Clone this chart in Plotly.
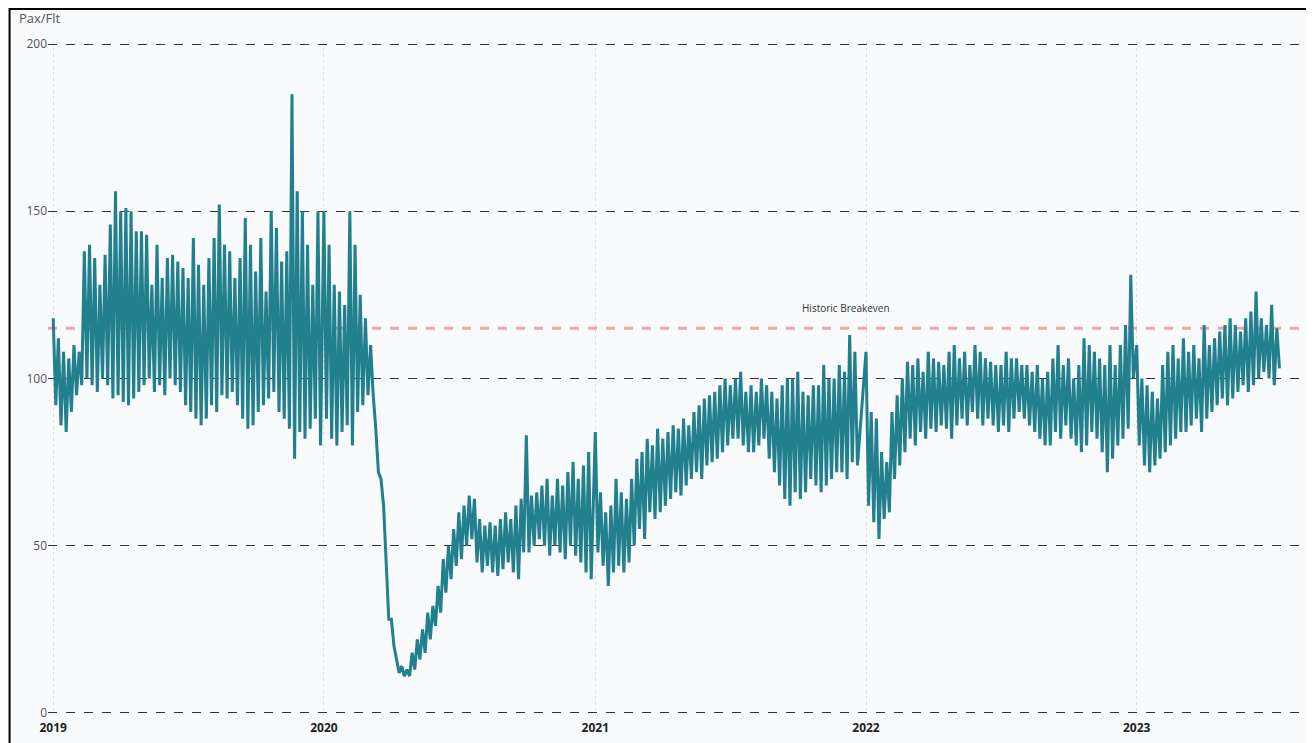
import plotly.graph_objects as go
import pandas as pd

# weekly high / low Pax per flight, per year
h2019 = [118,112,108,106,110,108,138,140,136,128,137,146,156,150,151,150,144,144,143,128,140,130,136,137,135,133,130,142,134,128,136,142,152,140,138,130,136,148,140,132,142,126,150,145,135,138,185,156,150,140,128,150]
l2019 = [92,86,84,90,95,98,100,98,96,100,98,94,95,93,92,94,96,98,100,96,98,95,100,98,96,92,90,88,86,88,92,90,95,94,96,92,88,85,86,90,92,94,96,90,88,85,76,84,82,85,88,80]
h2020 = [150,140,128,126,122,150,140,125,118, 110,85,70,45, 28,16,14,13, 18,22,25,30,32, 38,46,50,55, 60,62,65,64, 58,56,57,56,58, 60,58,62,64, 83,65,66,68,70, 65,70,68,72, 75,70,74,78]
l2020 = [88,82,80,84,86,80,90,92,95, 95,72,62,28, 20,12,11,11, 13,16,18,22,26, 30,36,40,44, 46,50,52,45, 42,44,42,41,43, 45,42,40,48, 48,50,52,50,47, 50,48,46,50, 47,45,42,40]
h2021 = [84,66,60,62, 70,66,64,70, 76,78,82,80, 85,82,84,86,85, 88,86,90,92, 94,95,96,98, 100,98,100,102,96, 98,96,100,98, 96,94,98,100, 100,102,96,95,98, 98,104,100,100, 104,102,113,108]
l2021 = [48,44,38,42, 44,42,45,50, 55,52,60,58, 60,62,64,66,65, 68,70,72,70, 74,75,76,78, 80,82,82,80,78, 78,80,82,76, 72,68,64,62, 66,64,66,70,68, 66,68,70,72, 72,70,75,74]
h2022 = [108,90,88,78,75, 90,95,100,105, 104,106,102,108, 106,105,104,108,110, 106,108,104,110, 108,106,105,104, 104,108,106,106,104, 104,102,104,100, 102,106,110,104, 106,100,104,112,110, 108,106,104,110, 104,110,116,131]
l2022 = [62,57,52,58,60, 70,74,78,82, 80,84,82,85, 84,86,85,82,86, 88,86,90,88, 86,88,86,84, 86,84,88,90,88, 86,84,82,80, 80,84,82,86, 82,80,78,80,84, 82,78,72,76, 80,82,85,100]
h2023 = [110,100,98,96,94, 104,108,110,106, 112,108,110,106, 116,110,112,114,116, 118,116,114,118, 120,126,118,116, 122,115]
l2023 = [80,74,72,74,76, 78,80,82,84, 84,86,88,84, 88,90,92,94,92, 94,96,98,96, 98,100,102,100, 98,103]

years = {2019: (h2019, l2019), 2020: (h2020, l2020), 2021: (h2021, l2021),
         2022: (h2022, l2022), 2023: (h2023, l2023)}
breakeven = 115

xs, ys = [], []
for yr, (hs, ls) in years.items():
    start = pd.Timestamp(f"{yr}-01-01")
    for i, (hv, lv) in enumerate(zip(hs, ls)):
        xs.append(start + pd.Timedelta(days=7 * i))
        ys.append(hv)
        xs.append(start + pd.Timedelta(days=7 * i + 3.5))
        ys.append(lv)

fig = go.Figure()
fig.add_hline(y=breakeven, line=dict(color="#f0a6a6", width=3, dash="dash"), layer="below")
fig.add_trace(go.Scatter(x=xs, y=ys, mode="lines",
                         line=dict(color="#217f8e", width=3), showlegend=False))
fig.add_annotation(x="2021-12-05", y=breakeven + 6, text="Historic Breakeven",
                   showarrow=False, font=dict(size=10, color="#333"))
fig.add_annotation(xref="paper", yref="paper", x=-0.025, y=1.052, text="Pax/Flt",
                   showarrow=False, xanchor="left", font=dict(size=13, color="#555"))
fig.add_shape(type="rect", xref="paper", yref="paper", x0=-0.0305, x1=1.0098, y0=-0.052, y1=1.049,
              line=dict(color="black", width=2))

fig.update_layout(
    width=1314, height=743,
    margin=dict(l=40, r=14, t=34, b=36),
    paper_bgcolor="#f8fafc", plot_bgcolor="#f8fafc",
    font=dict(family="Open Sans, sans-serif", color="#555"),
)
fig.update_xaxes(range=["2018-12-25", "2023-08-20"],
                 tickvals=["2019-01-01", "2020-01-01", "2021-01-01", "2022-01-01", "2023-01-01"],
                 ticktext=["<b>2019</b>", "<b>2020</b>", "<b>2021</b>", "<b>2022</b>", "<b>2023</b>"],
                 tickfont=dict(size=12, color="#222"), ticklabelstandoff=4,
                 showgrid=True, gridcolor="#dddddd", griddash="dot", zeroline=False)
fig.update_yaxes(range=[-0.6, 200.6], tickvals=[0, 50, 100, 150, 200],
                 tickfont=dict(size=12, color="#555"),
                 showgrid=True, gridcolor="#333", griddash="dash", gridwidth=1, zeroline=False)
fig.write_html("out.html")
